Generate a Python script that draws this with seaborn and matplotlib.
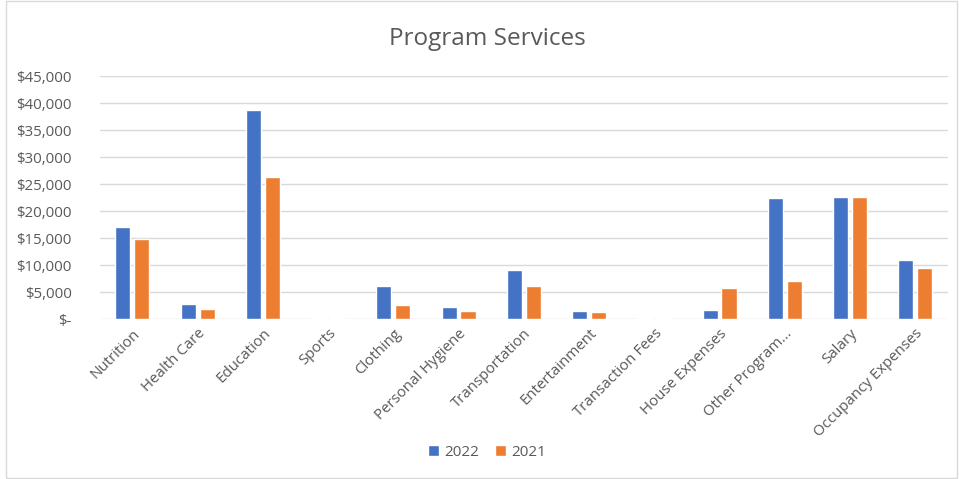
import numpy as np
import pandas as pd
import matplotlib
matplotlib.use("Agg")
import matplotlib.pyplot as plt
import seaborn as sns
from matplotlib.ticker import FuncFormatter, MultipleLocator
from matplotlib.patches import Rectangle

# Data
categories = ['Nutrition', 'Health Care', 'Education', 'Sports', 'Clothing',
              'Personal Hygiene', 'Transportation', 'Entertainment',
              'Transaction Fees', 'House Expenses', 'Other Program...',
              'Salary', 'Occupancy Expenses']
values_2022 = [17100, 2800, 38800, 200, 6100, 2300, 9000, 1500, 200, 1700,
               22400, 22600, 11000]
values_2021 = [14800, 1800, 26300, 180, 2600, 1500, 6200, 1300, 180, 5700,
               7000, 22600, 9500]
years = ['2022', '2021']

df = pd.DataFrame({
    'Category': categories * 2,
    'Year': [years[0]] * len(categories) + [years[1]] * len(categories),
    'Amount': values_2022 + values_2021,
})

sns.set_theme(style='white')
plt.rcParams['font.family'] = ['Open Sans', 'DejaVu Sans']
text_color = '#595959'
grid_color = '#D9D9D9'

fig = plt.figure(figsize=(9.59, 4.79), dpi=100)
ax = fig.add_axes([0.104, 0.334, 0.8845, 0.507])

sns.barplot(data=df, x='Category', y='Amount', hue='Year',
            palette=['#4472C4', '#ED7D31'], saturation=1,
            width=0.58, gap=0.2, ax=ax, legend=True)

ax.set_ylim(0, 45000)
ax.set_xlim(-0.5, len(categories) - 0.5)
ax.yaxis.set_major_locator(MultipleLocator(5000))
ax.yaxis.set_major_formatter(FuncFormatter(
    lambda v, p: '$-' if v == 0 else f'${v:,.0f}'))
ax.grid(axis='y', color=grid_color, lw=1)
ax.set_axisbelow(True)
for s in ax.spines.values():
    s.set_visible(False)
ax.tick_params(axis='both', length=0, colors=text_color, labelsize=10.8)
ax.tick_params(axis='y', pad=20)
ax.tick_params(axis='x', pad=5)
plt.setp(ax.get_xticklabels(), rotation=45, ha='right',
         rotation_mode='anchor')
ax.set_xlabel('')
ax.set_ylabel('')

fig.text(0.508, 0.918, 'Program Services', ha='center', va='center',
         fontsize=17.5, color=text_color)

handles, labels = ax.get_legend_handles_labels()
ax.legend_.remove()
fig.legend(handles, labels, loc='center', bbox_to_anchor=(0.508, 0.055),
           ncol=2, frameon=False, fontsize=11, labelcolor=text_color,
           handlelength=0.7, handleheight=0.7, columnspacing=1.0,
           handletextpad=0.4)

fig.patches.append(Rectangle((0.006, 0.002), 0.992, 0.996,
                             transform=fig.transFigure, fill=False,
                             edgecolor=grid_color, lw=1))

fig.savefig('out.png', dpi=100)
